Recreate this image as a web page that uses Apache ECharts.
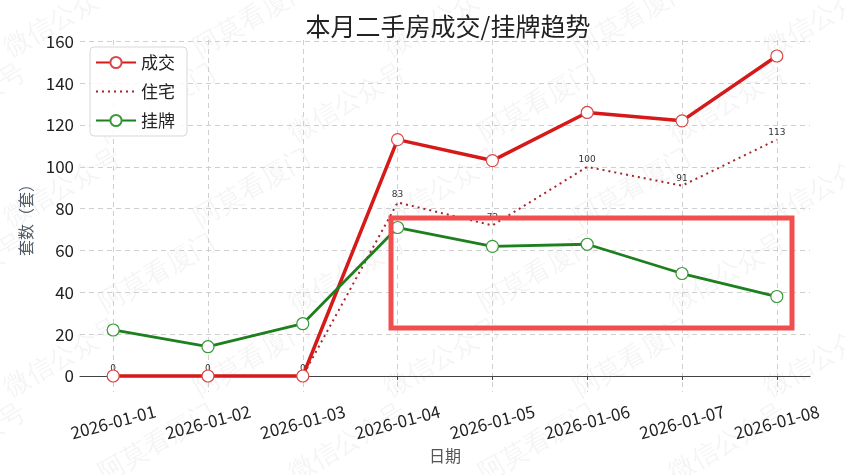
<!DOCTYPE html>
<html><head><meta charset="utf-8">
<script src="https://cdn.jsdelivr.net/npm/echarts@6/dist/echarts.min.js"></script>
<style>html,body{margin:0;padding:0;background:#fff}#c{width:845px;height:475px}</style>
</head><body><div id="c"></div>
<script>
const dates = ['2026-01-01','2026-01-02','2026-01-03','2026-01-04','2026-01-05','2026-01-06','2026-01-07','2026-01-08'];
const deals = [0, 0, 0, 113, 103, 126, 122, 153];
const residential = [0, 0, 0, 83, 72, 100, 91, 113];
const listings = [22, 14, 25, 71, 62, 63, 49, 38];
const yTicks = [0, 20, 40, 60, 80, 100, 120, 140, 160];

const idx = dates.map((d, i) => i);
const pts = arr => arr.map((v, i) => [i, v]);
const FONT = '"Noto Sans CJK SC","DejaVu Sans",sans-serif';

const chart = echarts.init(document.getElementById('c'), null, {renderer: 'canvas'});

// faint watermark texts
const wm = [];
const wmText = ['阿莫看厦门', '微信公众号'];
let k = 0;
for (let r = -2; r < 7; r++) {
  for (let c = -1; c < 6; c++) {
    wm.push({
      type: 'text', silent: true, z: 0,
      x: c * 190 + (r % 2) * 95, y: r * 85 + 40,
      rotation: Math.PI / 6,
      style: {text: wmText[(k++) % 2], fontSize: 26, fill: 'rgba(0,0,0,0.045)', font: '26px ' + FONT}
    });
  }
}

chart.setOption({
  backgroundColor: '#fff',
  animation: false,
  textStyle: {fontFamily: FONT},
  title: {
    text: '本月二手房成交/挂牌趋势', left: 443, top: 9, textAlign: 'center',
    textStyle: {fontSize: 25, fontWeight: 'normal', color: '#222', fontFamily: FONT}
  },
  legend: {
    left: 90, top: 47, orient: 'vertical',
    itemWidth: 40, itemHeight: 14, itemGap: 12,
    padding: [7, 12, 7, 5],
    backgroundColor: 'rgba(255,255,255,0.85)', borderColor: '#d8d8d8', borderWidth: 1, borderRadius: 4,
    textStyle: {fontSize: 17, color: '#222', fontFamily: FONT},
    data: ['成交', '住宅', '挂牌']
  },
  grid: {left: 80, right: 35, top: 40, bottom: 83},
  xAxis: {
    type: 'value', min: -0.35, max: 7.35,
    name: '日期', nameLocation: 'middle', nameGap: 56,
    nameTextStyle: {fontSize: 16, color: '#555', fontFamily: FONT},
    axisLine: {show: true, lineStyle: {color: '#444', width: 1}},
    axisTick: {show: true, customValues: idx, length: 4, lineStyle: {color: '#444'}},
    axisLabel: {
      customValues: idx, rotate: 15, align: 'center', verticalAlign: 'middle', margin: 30,
      fontSize: 17, color: '#222', fontFamily: FONT,
      formatter: v => dates[Math.round(v)]
    },
    splitLine: {show: true, lineStyle: {color: '#cfcfcf', type: [5, 4], width: 1}}
  },
  yAxis: {
    type: 'value', min: -7.65, max: 160.65,
    name: '套数（套）', nameLocation: 'middle', nameGap: 46, nameRotate: 90,
    nameTextStyle: {fontSize: 16, color: '#4f5b66', fontFamily: FONT},
    axisLine: {show: false},
    axisTick: {show: false, customValues: yTicks},
    axisLabel: {customValues: yTicks, fontSize: 17, color: '#222', margin: 6, fontFamily: FONT},
    splitLine: {show: true, lineStyle: {color: '#cfcfcf', type: [5, 4], width: 1}}
  },
  graphic: wm.concat([{
    type: 'rect', z: 100, silent: true,
    shape: {x: 391, y: 218, width: 401, height: 110},
    style: {fill: 'none', stroke: '#f24e4e', lineWidth: 5}
  }]),
  series: [
    {
      name: '成交', type: 'line', data: pts(deals), z: 4,
      symbol: 'circle', symbolSize: 12,
      lineStyle: {color: '#d61a1a', width: 3.5},
      itemStyle: {color: '#fff', borderColor: '#d94848', borderWidth: 1.2},
      emphasis: {disabled: true}
    },
    {
      name: '住宅', type: 'line', data: pts(residential), z: 3,
      symbol: 'circle', symbolSize: 2,
      lineStyle: {color: '#a8232b', width: 2, type: [2, 4]},
      itemStyle: {color: 'rgba(0,0,0,0)', borderWidth: 0},
      label: {show: true, position: 'top', distance: 2, fontSize: 9, color: '#333', fontFamily: '"DejaVu Sans",sans-serif'},
      emphasis: {disabled: true}
    },
    {
      name: '挂牌', type: 'line', data: pts(listings), z: 5,
      symbol: 'circle', symbolSize: 12,
      lineStyle: {color: '#1e7f1e', width: 2.8},
      itemStyle: {color: '#fff', borderColor: '#3a9a3a', borderWidth: 1.2},
      emphasis: {disabled: true}
    }
  ]
});
</script>
</body></html>
